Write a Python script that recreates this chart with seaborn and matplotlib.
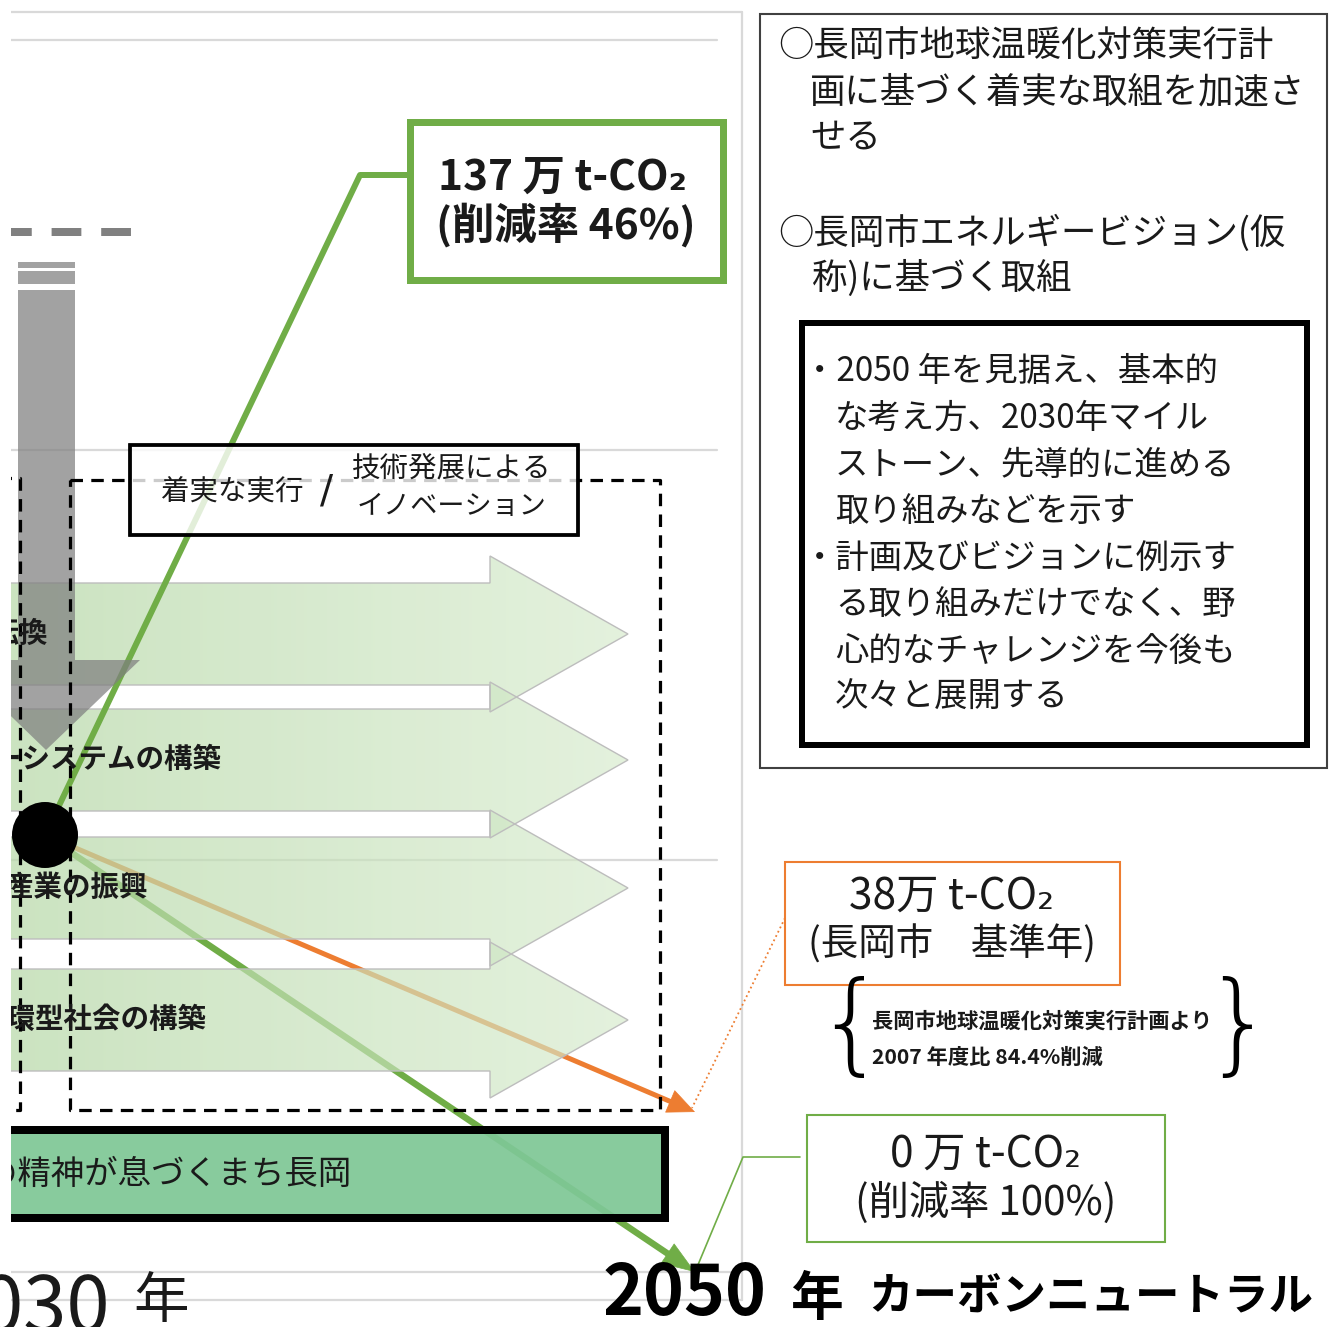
import numpy as np
import seaborn as sns
import matplotlib.pyplot as plt
from matplotlib.patches import Rectangle, Polygon, Circle

# ---- data -------------------------------------------------------------
years = [2030, 2050]
emissions = [137, 38, 0]          # 万 t-CO2 : 2030 target, city baseline, 2050 goal
cut_rates = [46, 100]             # reduction rate (%) for 2030 / 2050
pillar_labels = ['エネルギー転換', 'エネルギーシステムの構築',
                 '地域産業の振興', '循環型社会の構築']
plan_lines = ['○長岡市地球温暖化対策実行計', '画に基づく着実な取組を加速さ', 'せる',
              '○長岡市エネルギービジョン(仮', '称)に基づく取組']
vision_lines = ['・2050 年を見据え、基本的', 'な考え方、2030年マイル',
                'ストーン、先導的に進める', '取り組みなどを示す',
                '・計画及びビジョンに例示す', 'る取り組みだけでなく、野',
                '心的なチャレンジを今後も', '次々と展開する']
brace_lines = ['長岡市地球温暖化対策実行計画より', '2007 年度比 84.4%削減']
approach_labels = ['着実な実行', '技術発展による', 'イノベーション']
motto = '米百俵の精神が息づくまち長岡'
goal_label = 'カーボンニュートラル'

GREEN = '#70ad47'
ORANGE = '#ed7d31'
INK = '#1a1a1a'
JP = ['Noto Sans CJK JP', 'DejaVu Sans']

sns.set_theme(style='white')
plt.rcParams['font.family'] = JP

fig = plt.figure(figsize=(13.29, 13.27), dpi=100)
ax = fig.add_axes([11 / 1329, 0, 1318 / 1329, 1])


def px(v):
    # pixel width -> points
    return v * 0.72


# light frame / guide lines
for y, x1 in [(12, 742), (40, 717), (450, 717), (860, 717), (1272, 742), (1300, 742)]:
    ax.plot([0, x1], [y, y], color='#d9d9d9', lw=1.6, zorder=1)
ax.plot([742, 742], [12, 1300], color='#d9d9d9', lw=1.6, zorder=1)

# year positions on the horizontal axis
x_year = {years[0]: 45, years[1]: 695}
dot = (x_year[years[0]], 835)
y_goal = {emissions[1]: 1112, emissions[2]: 1272}


def trend(p0, p1, color, lw, head, z):
    d = np.subtract(p1, p0).astype(float)
    d /= np.hypot(*d)
    base = np.array(p1) - d * head * 0.8
    sns.lineplot(x=[p0[0], base[0]], y=[p0[1], base[1]], ax=ax, color=color,
                 lw=lw, sort=False, estimator=None, zorder=z)
    ax.annotate('', xy=p1, xytext=tuple(np.array(p1) - d * (head + 6)),
                arrowprops=dict(arrowstyle=f'-|>,head_length={head / 27.8:.2f},head_width=0.42',
                                color=color, lw=0.5, mutation_scale=20,
                                shrinkA=0, shrinkB=0), zorder=z)


# trajectories to 2050 (beneath the pillar arrows)
trend(dot, (x_year[years[1]], y_goal[emissions[1]]), ORANGE, px(5), 26, 2)
trend(dot, (x_year[years[1]], y_goal[emissions[2]]), GREEN, px(6.5), 32, 2)

# pillar arrows with gradient
label_right = [48, 222, 148, 207]
for yc, lab, xr in zip([634, 760, 888, 1020], pillar_labels, label_right):
    pts = [(-60, yc - 51), (490, yc - 51), (490, yc - 78), (628, yc),
           (490, yc + 78), (490, yc + 51), (-60, yc + 51)]
    poly = Polygon(pts, closed=True, fc='none', ec='#bdbdbd', lw=1.0, zorder=3.1)
    ax.add_patch(poly)
    t = np.linspace(0, 1, 256)[None, :, None]
    c0 = np.array([0.70, 0.84, 0.64, 0.72])
    c1 = np.array([0.84, 0.92, 0.80, 0.66])
    grad = c0 + (c1 - c0) * t
    im = ax.imshow(grad, extent=(-60, 628, yc + 78, yc - 78), aspect='auto',
                   interpolation='bilinear', zorder=3)
    im.set_clip_path(poly)
    txt = ax.text(xr, yc, lab, ha='right', va='center', fontsize=20.5,
                  fontweight='bold', color=INK, zorder=9)
    txt.set_clip_on(True)

# leader to the 2030 target box (above the arrows)
sns.lineplot(x=[dot[0], 360, 410], y=[dot[1], 175, 175], ax=ax, color=GREEN,
             lw=px(6), sort=False, estimator=None, zorder=4)

# grey downward arrow (current emissions)
ax.plot([2, 132], [232, 232], color='#808080', lw=px(8), dashes=(3.72, 2.48),
        solid_capstyle='butt', zorder=5)
for y0, h in [(262, 6), (271, 13), (290, 370)]:
    ax.add_patch(Rectangle((18, y0), 57, h, fc='#7f7f7f', ec='none', alpha=0.72, zorder=5))
ax.add_patch(Polygon([(-47, 660), (140, 660), (46, 750)], closed=True,
                     fc='#7f7f7f', ec='none', alpha=0.72, zorder=5))

# dashed frames
dash = (0, (3.9, 2.6))
ax.plot([-5, 20, 20, -5], [478, 478, 1110, 1110], color='black', lw=px(3.2),
        ls=dash, zorder=6)
ax.plot([70, 660, 660, 70, 70], [480, 480, 1110, 1110, 480], color='black', lw=px(3.2),
        ls=dash, zorder=6)

# approach box
ax.add_patch(Rectangle((130, 445), 448, 90, fc='white', ec='black', lw=px(3.5),
                       alpha=0.8, zorder=7))
ax.add_patch(Rectangle((130, 445), 448, 90, fc='none', ec='black', lw=px(3.5), zorder=7.1))
ax.text(232, 492, approach_labels[0], ha='center', va='center', fontsize=20.5, color=INK, zorder=9)
ax.text(327, 491, '/', ha='center', va='center', fontsize=28, family='DejaVu Sans',
        color=INK, zorder=9)
ax.text(452, 468, approach_labels[1], ha='center', va='center', fontsize=20.5, color=INK, zorder=9)
ax.text(452, 507, approach_labels[2], ha='center', va='center', fontsize=19.5, color=INK, zorder=9)

# motto bar
ax.add_patch(Rectangle((-20, 1130), 685, 88, fc='#7fc796', ec='none', alpha=0.93, zorder=8))
ax.add_patch(Rectangle((-20, 1130), 685, 88, fc='none', ec='black', lw=px(8), zorder=8.1))
m = ax.text(352, 1174, motto, ha='right', va='center', fontsize=24, color=INK, zorder=9)
m.set_clip_on(True)

# 2030 point
ax.add_patch(Circle(dot, 33, fc='black', ec='none', zorder=10))

# 2030 target box
ax.add_patch(Rectangle((410, 122), 313, 158, fc='white', ec=GREEN, lw=px(7), zorder=8))
ax.text(438, 178, f'{emissions[0]} 万 t-CO₂', ha='left', va='center', fontsize=30.5,
        fontweight='bold', color=INK, zorder=9)
ax.text(436, 225, f'(削減率 {cut_rates[0]}%)', ha='left', va='center', fontsize=30.5,
        fontweight='bold', color=INK, zorder=9)

# right-hand policy panel
ax.add_patch(Rectangle((760, 14), 567, 754, fc='white', ec='#404040', lw=1.5, zorder=8))
for y, s, x in zip([47, 92, 138, 233, 278], plan_lines, [778, 810, 810, 778, 812]):
    ax.text(x, y, s, ha='left', va='center', fontsize=25.5, color=INK, zorder=9)
ax.add_patch(Rectangle((802, 323), 505, 422, fc='white', ec='black', lw=px(6), zorder=8.5))
for i, s in enumerate(vision_lines):
    x = 803 if s.startswith('・') else 835
    ax.text(x, 372 + i * 46.5, s, ha='left', va='center', fontsize=24, color=INK, zorder=9)

# baseline box (orange) and leader
ax.add_patch(Rectangle((785, 862), 335, 123, fc='white', ec=ORANGE, lw=1.5, zorder=8))
ax.text(952, 897, f'{emissions[1]}万 t-CO₂', ha='center', va='center', fontsize=30.5,
        color=INK, zorder=9)
ax.text(952, 945, '(長岡市　基準年)', ha='center', va='center', fontsize=27,
        color=INK, zorder=9)
sns.lineplot(x=[785, 692], y=[918, 1108], ax=ax, color=ORANGE, lw=1.3, ls=':',
             sort=False, estimator=None, zorder=8)

ax.text(850, 1030, '{', ha='center', va='center', fontsize=80, family='DejaVu Sans',
        fontweight='light', color='black', zorder=9)
ax.text(1238, 1030, '}', ha='center', va='center', fontsize=80, family='DejaVu Sans',
        fontweight='light', color='black', zorder=9)
ax.text(872, 1021, brace_lines[0], ha='left', va='center', fontsize=15.3,
        fontweight='bold', color=INK, zorder=9)
ax.text(872, 1057, brace_lines[1], ha='left', va='center', fontsize=15.3,
        fontweight='bold', color=INK, zorder=9)

# 2050 goal box (green) and leader
ax.add_patch(Rectangle((807, 1115), 358, 127, fc='white', ec=GREEN, lw=1.5, zorder=8))
ax.text(986, 1155, f'{emissions[2]} 万 t-CO₂', ha='center', va='center', fontsize=30.5,
        color=INK, zorder=9)
ax.text(986, 1203, f'(削減率 {cut_rates[1]}%)', ha='center', va='center', fontsize=29,
        color=INK, zorder=9)
sns.lineplot(x=[800, 743, 695], y=[1157, 1157, 1272], ax=ax, color=GREEN, lw=1.2,
             sort=False, estimator=None, zorder=8)

# year labels
ax.text(110, 1332, str(years[0]), ha='right', va='baseline', fontsize=56, color=INK, zorder=9)
ax.text(133, 1318, '年', ha='left', va='baseline', fontsize=40, color=INK, zorder=9)
ax.text(603, 1315, str(years[1]), ha='left', va='baseline', fontsize=50,
        fontweight='bold', color='black', zorder=9)
ax.text(790, 1315, '年', ha='left', va='baseline', fontsize=38, fontweight='bold',
        color='black', zorder=9)
ax.text(868, 1310, goal_label, ha='left', va='baseline', fontsize=32, fontweight='bold',
        color='black', zorder=9)

ax.set_xlim(11, 1329)
ax.set_ylim(1327, 0)
ax.axis('off')
fig.savefig('out.png', dpi=100, facecolor='white')
